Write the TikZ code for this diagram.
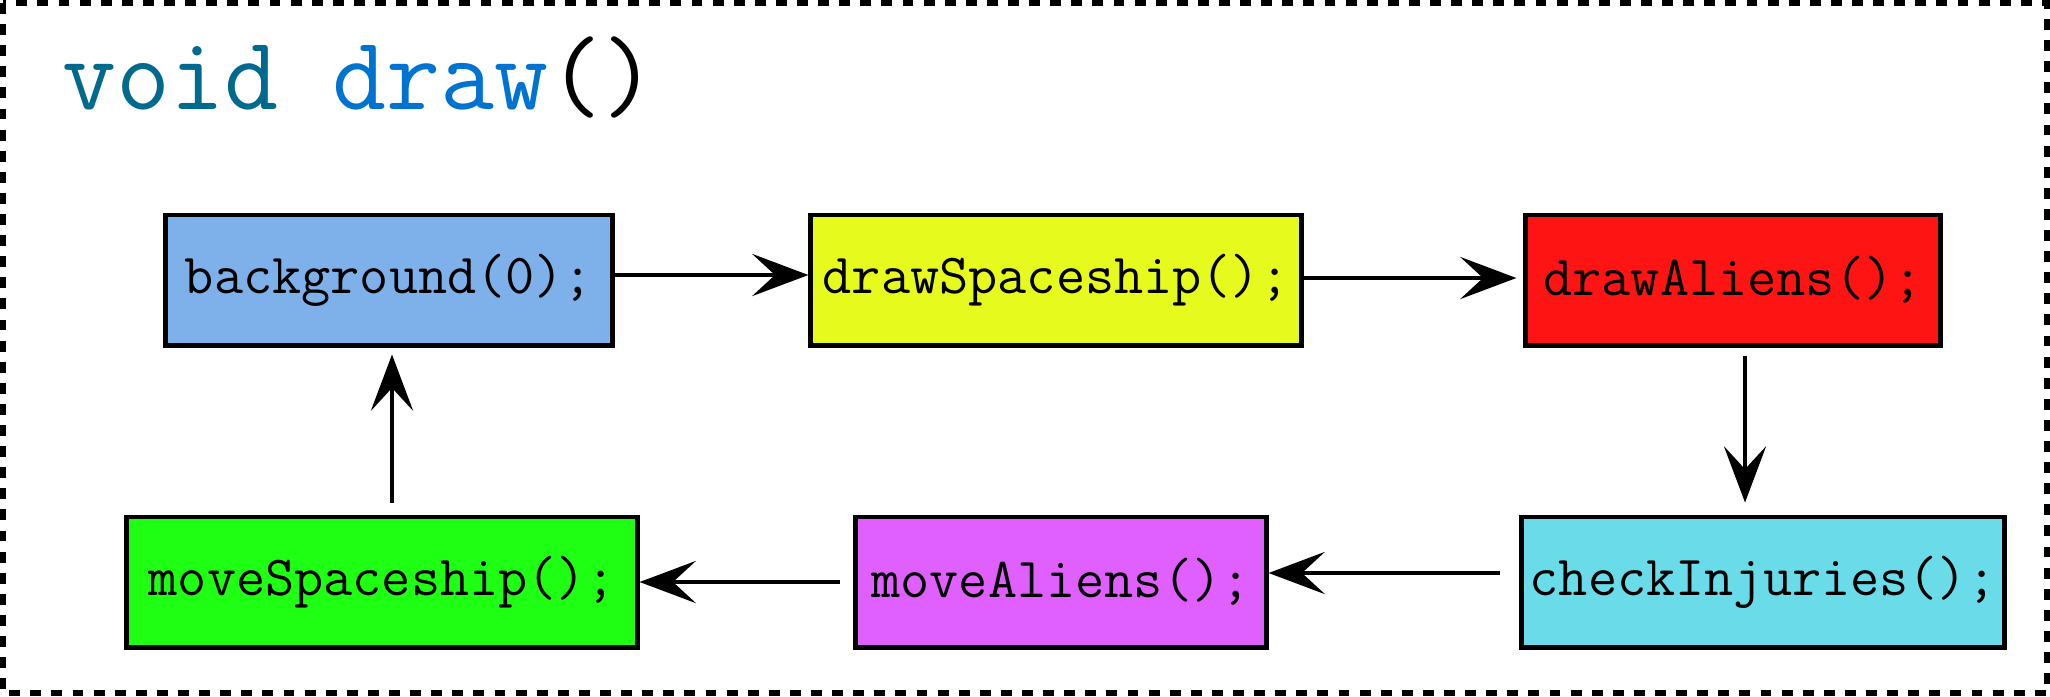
\documentclass[tikz,border=0pt]{standalone}
\usetikzlibrary{arrows.meta,positioning,calc}
\definecolor{voidcol}{RGB}{0,106,142}
\definecolor{drawcol}{RGB}{0,115,208}
\definecolor{bgfill}{RGB}{126,176,234}
\definecolor{shipfill}{RGB}{230,250,30}
\definecolor{alienfill}{RGB}{255,20,20}
\definecolor{movefill}{RGB}{30,255,20}
\definecolor{mafill}{RGB}{224,96,255}
\definecolor{checkfill}{RGB}{106,219,232}

\begin{document}
\begin{tikzpicture}[x=0.01cm, y=-0.01cm, >={Stealth[length=16pt, width=12pt, inset=6.5pt]},
		fnbox/.style={draw, line width=1.4pt, minimum height=1.3cm, inner sep=0pt,
			font=\ttfamily\fontsize{16.1}{19}\selectfont},
		flow/.style={->, line width=0.9pt}]
		\useasboundingbox (0,0) rectangle (2050,696);
		\draw[line width=1.5pt, dash pattern=on 3.1pt off 2.9pt] (3,3) rectangle (2047,693);
		\node[anchor=base west, inner sep=0pt, font=\ttfamily\fontsize{29.8}{35}\selectfont] (title) at (62,109)
			{\textcolor{voidcol}{void} \textcolor{drawcol}{draw}()};
		% top row
		\node[fnbox, fill=bgfill, minimum width=4.46cm] (bg) at (389,280) {background(0);};
		\node[fnbox, fill=shipfill, minimum width=4.9cm] (ds) at (1056,280) {drawSpaceship();};
		\node[fnbox, fill=alienfill, minimum width=4.14cm] (da) at (1733,280) {drawAliens();};
		% bottom row
		\node[fnbox, fill=movefill, minimum width=5.1cm] (ms) at (382,582) {moveSpaceship();};
		\node[fnbox, fill=mafill, minimum width=4.1cm] (ma) at (1061,582) {moveAliens();};
		\node[fnbox, fill=checkfill, minimum width=4.82cm] (ci) at (1763,582) {checkInjuries();};
		% loop
		\draw[flow] ([yshift=.05cm]bg.east) -- ([yshift=.05cm]ds.west);
		\draw[flow, shorten >=.07cm] ([yshift=.02cm]ds.east) -- ([yshift=.02cm]ds.east -| da.west);
		\draw[flow, shorten <=.08cm, shorten >=.12cm] ([xshift=.12cm]da.south) -- ([xshift=.12cm]da.south |- ci.north);
		\draw[flow, shorten <=.19cm] ([yshift=.09cm]ci.west) -- ([yshift=.09cm]ci.west -| ma.east);
		\draw[flow, shorten <=.13cm] (ma.west) -- (ms.east);
		\draw[flow, shorten <=.12cm, shorten >=.07cm] ([xshift=.1cm]ms.north) -- ([xshift=.1cm]ms.north |- bg.south);
	\end{tikzpicture}
\end{document}
